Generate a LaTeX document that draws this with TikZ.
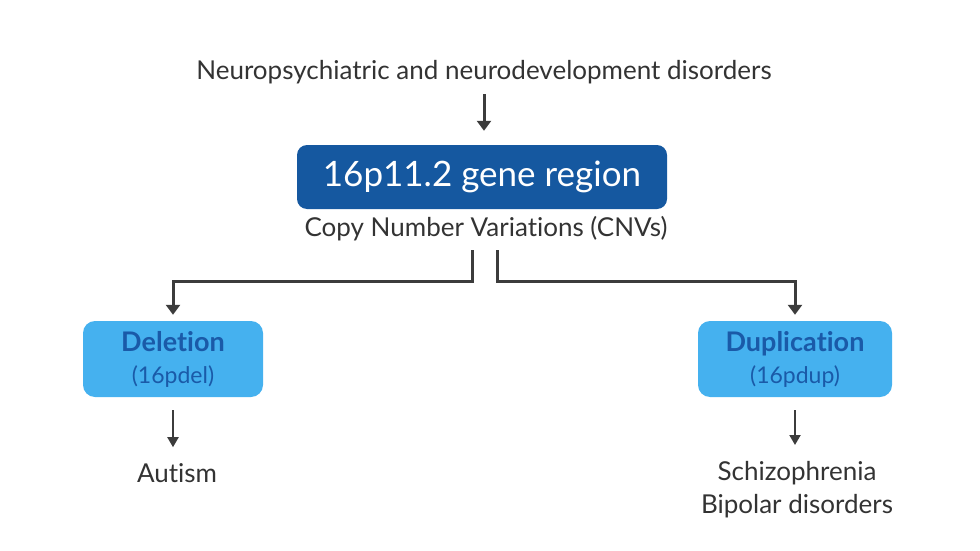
\documentclass[tikz,border=0pt]{standalone}
\usepackage{fontspec}
\setmainfont[Ligatures={NoCommon,NoContextual,NoRare}]{Lato}
\usetikzlibrary{arrows.meta,calc}
\definecolor{darkblue}{HTML}{1558A0}
\definecolor{lightblue}{HTML}{45B1EF}
\definecolor{boxtext}{HTML}{1A5AA8}
\definecolor{txt}{HTML}{333333}
\definecolor{arrcol}{HTML}{3C3C3C}
\begin{document}
\begin{tikzpicture}[x=1pt,y=-1pt,
 lbl/.style={text=txt,font=\fontsize{26}{33}\selectfont,inner sep=0pt,align=center},
 mainbox/.style={fill=darkblue,rounded corners=10pt,minimum width=370pt,minimum height=64pt,text=white,font=\fontsize{35}{42}\selectfont},
 subbox/.style={fill=lightblue,rounded corners=12pt,minimum height=76pt,text=boxtext,align=center,font=\fontsize{23}{32}\selectfont},
 thickarr/.style={draw=arrcol,line width=3pt,-{Triangle[width=14pt,length=10pt]}},
 thinarr/.style={draw=arrcol,line width=2pt,-{Triangle[width=11pt,length=10pt]}}]
\useasboundingbox (0,0) rectangle (980,551);
\node[lbl] (top) at (484,72) {Neuropsychiatric and neurodevelopment disorders};
\node[mainbox] (main) at (482,177) {16p11.2 gene region};
\node[lbl] (cnv) at (486,229) {Copy Number Variations (CNVs)};
\node[subbox,minimum width=180pt] (del) at (173,359) {{\fontsize{27}{32}\selectfont\bfseries Dele\kern0pt t\kern0pt ion}\\(16pdel)};
\node[subbox,minimum width=194pt] (dup) at (795,359) {{\fontsize{27}{32}\selectfont\bfseries Duplica\kern0pt t\kern0pt ion}\\(16pdup)};
\node[lbl] (aut) at (177,473) {Autism};
\node[lbl,anchor=north] (schiz) at (797,461) {Schizophrenia\\Bipolar disorders};
\coordinate (sl) at (472,250);
\coordinate (sr) at (497,250);
\draw[thickarr,shorten <=10pt,shorten >=14pt] (top.south) -- (top.south |- main.north);
\draw[thickarr] (sl) -- ++(0,31) -| ([yshift=6pt]del.north);
\draw[thickarr] (sr) -- ++(0,31) -| ([yshift=6pt]dup.north);
\draw[thinarr,shorten <=13pt,shorten >=16pt] (del.south) -- (del.south |- aut.north);
\draw[thinarr,shorten <=13pt,shorten >=16pt] (dup.south) -- (dup.south |- schiz.north);
\end{tikzpicture}
\end{document}
